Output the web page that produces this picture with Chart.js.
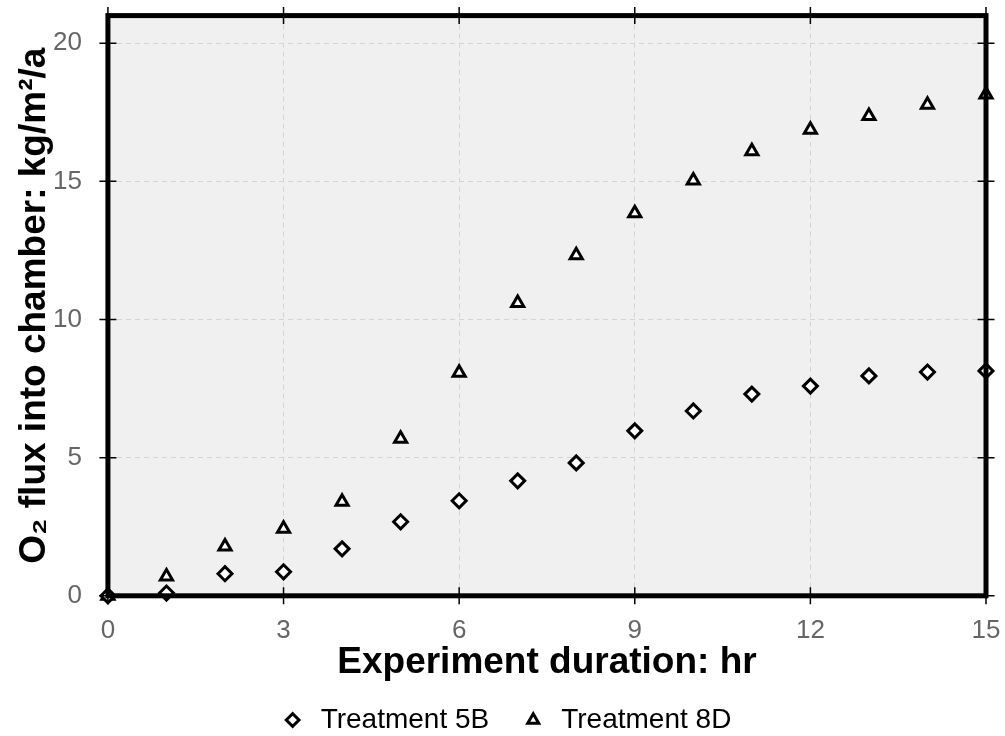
<!DOCTYPE html>
<html>
<head>
<meta charset="utf-8">
<script src="https://cdn.jsdelivr.net/npm/chart.js@4/dist/chart.umd.min.js"></script>
<style>
  body { margin: 0; background: #fff; }
  #wrap { width: 1005px; height: 736px; }
</style>
</head>
<body>
<div id="wrap"><canvas id="flux-chart"></canvas></div>
<script>
// experiment hours and O2 flux readings (kg/m2/a)
var hours = [0, 1, 2, 3, 4, 5, 6, 7, 8, 9, 10, 11, 12, 13, 14, 15];
var treat5B = [0, 0.1, 0.8, 0.87, 1.7, 2.68, 3.44, 4.16, 4.81, 5.97, 6.69, 7.3, 7.59, 7.96, 8.1, 8.14];
var treat8D = [0, 0.7, 1.78, 2.43, 3.4, 5.68, 8.07, 10.6, 12.33, 13.85, 15.03, 16.09, 16.87, 17.37, 17.77, 18.14];
var xTicks = [0, 3, 6, 9, 12, 15];
var yTicks = [0, 5, 10, 15, 20];

function toPoints(vals) {
  var pts = [];
  for (var i = 0; i < hours.length; i++) {
    pts.push({ x: hours[i], y: vals[i] });
  }
  return pts;
}

Chart.defaults.font.family = '"Liberation Sans", Arial, sans-serif';

// light grey fill behind the plot area
var plotBg = {
  id: 'plotBg',
  beforeDraw: function(chart) {
    var a = chart.chartArea, c = chart.ctx;
    c.save();
    c.fillStyle = '#f0f0f0';
    c.fillRect(a.left, a.top, a.right - a.left, a.bottom - a.top);
    c.restore();
  }
};

// thick black frame on top of the markers, tick marks crossing it on all sides
var frameTicks = {
  id: 'frameTicks',
  afterDatasetsDraw: function(chart) {
    var a = chart.chartArea, c = chart.ctx, t = 8.5;
    var sx = chart.scales.x, sy = chart.scales.y;
    c.save();
    c.strokeStyle = '#000';
    c.lineWidth = 5;
    c.strokeRect(a.left, a.top, a.right - a.left, a.bottom - a.top);
    c.lineWidth = 1.5;
    c.beginPath();
    xTicks.forEach(function(v) {
      var px = sx.getPixelForValue(v);
      c.moveTo(px, a.bottom - t); c.lineTo(px, a.bottom + t);
      c.moveTo(px, a.top - t); c.lineTo(px, a.top + t);
    });
    yTicks.forEach(function(v) {
      var py = sy.getPixelForValue(v);
      c.moveTo(a.left - t, py); c.lineTo(a.left + t, py);
      c.moveTo(a.right - t, py); c.lineTo(a.right + t, py);
    });
    c.stroke();
    c.restore();
  }
};

function gridOpts(onArea, len) {
  return {
    display: true,
    drawOnChartArea: onArea,
    color: '#d4d4d4',
    lineWidth: 1,
    tickLength: len,
    tickColor: 'rgba(0,0,0,0)'
  };
}
var gridDash = { display: false, dash: [5, 4] };
function setTicks(list) {
  return function(s) { s.ticks = list.map(function(v) { return { value: v }; }); };
}

var ctx = document.getElementById('flux-chart').getContext('2d');
var fluxChart = new Chart(ctx, {
  type: 'scatter',
  data: {
    datasets: [
      {
        label: 'Treatment 5B',
        data: toPoints(treat5B),
        pointStyle: 'rectRot',
        pointRadius: 7,
        pointHoverRadius: 7,
        pointBorderWidth: 3,
        borderWidth: 3,
        borderColor: '#000',
        backgroundColor: '#fff',
        clip: false
      },
      {
        label: 'Treatment 8D',
        data: toPoints(treat8D),
        pointStyle: 'triangle',
        pointRadius: 7,
        pointHoverRadius: 7,
        pointBorderWidth: 3,
        borderWidth: 3,
        borderColor: '#000',
        backgroundColor: '#fff',
        clip: false
      }
    ]
  },
  options: {
    responsive: true,
    maintainAspectRatio: false,
    animation: false,
    layout: { padding: { left: 16, right: 11, top: 0, bottom: -8 } },
    plugins: {
      tooltip: { enabled: false },
      legend: {
        position: 'bottom',
        labels: {
          usePointStyle: true,
          boxHeight: 9,
          padding: 30,
          color: '#000',
          font: { size: 28 }
        }
      }
    },
    scales: {
      x: {
        type: 'linear',
        position: 'bottom',
        min: 0,
        max: 15,
        afterBuildTicks: setTicks(xTicks),
        grid: gridOpts(true, 19),
        border: gridDash,
        ticks: { color: '#666', padding: 0, font: { size: 26 } },
        title: {
          display: true,
          text: 'Experiment duration: hr',
          color: '#000',
          padding: { top: -2, bottom: -5 },
          font: { size: 37, weight: 'bold', lineHeight: 1.0 }
        }
      },
      x2: {
        type: 'linear',
        position: 'top',
        min: 0,
        max: 15,
        afterBuildTicks: setTicks(xTicks),
        grid: gridOpts(false, 8),
        border: { display: false },
        ticks: { display: false, padding: 0 }
      },
      y: {
        type: 'linear',
        position: 'left',
        min: 0,
        max: 21,
        afterBuildTicks: setTicks(yTicks),
        grid: gridOpts(true, 26),
        border: gridDash,
        ticks: { color: '#666', padding: 0, font: { size: 26 } },
        title: {
          display: true,
          text: 'O\u2082 flux into chamber: kg/m\u00b2/a',
          color: '#000',
          padding: { top: 0, bottom: 0 },
          font: { size: 37, weight: 'bold', lineHeight: 1.0 }
        }
      },
      y2: {
        type: 'linear',
        position: 'right',
        min: 0,
        max: 21,
        afterBuildTicks: setTicks(yTicks),
        grid: gridOpts(false, 8),
        border: { display: false },
        ticks: { display: false, padding: 0 }
      }
    }
  },
  plugins: [plotBg, frameTicks]
});
</script>
</body>
</html>
